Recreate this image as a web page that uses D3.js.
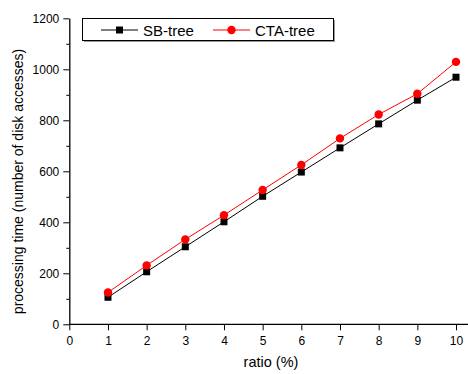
<!DOCTYPE html>
<html>
<head>
<meta charset="utf-8">
<script src="https://cdn.jsdelivr.net/npm/d3@7"></script>
<style>
  body { margin: 0; background: #fff; }
  text { font-family: "Liberation Sans", Arial, sans-serif; fill: #000; }
</style>
</head>
<body>
<div class="container"></div>
<script>
const ratios = [1, 2, 3, 4, 5, 6, 7, 8, 9, 10];
const sbTree = [106, 206, 304, 402, 502, 597, 692, 786, 879, 969];
const ctaTree = [125, 231, 333, 428, 527, 625, 729, 823, 904, 1029];
const xTicks = [0, 1, 2, 3, 4, 5, 6, 7, 8, 9, 10];
const yTicks = [0, 200, 400, 600, 800, 1000, 1200];

const WIDTH = 468;
const HEIGHT = 374;

var svg = d3.select('.container').append('svg')
    .attr('width', WIDTH)
    .attr('height', HEIGHT);

var xScale = d3.scaleLinear().domain([0, 10]).range([69.3, 456]);
var yScale = d3.scaleLinear().domain([0, 1200]).range([324.3, 18.3]);

// x axis
var xAxis = svg.append('g')
    .attr('transform', 'translate(0,' + yScale(0) + ')')
    .call(d3.axisBottom(xScale).tickValues(xTicks).tickSize(6).tickPadding(6).tickSizeOuter(0));
xAxis.select('.domain').attr('stroke-width', 1.3).attr('d', 'M' + xScale(0) + ',0H' + WIDTH);
xAxis.selectAll('text').style('font-size', '12px');

// y axis (major + minor)
var yAxis = svg.append('g')
    .attr('transform', 'translate(' + xScale(0) + ',0)')
    .call(d3.axisLeft(yScale).tickValues(yTicks).tickFormat(d3.format('d'))
        .tickSize(6).tickPadding(4).tickSizeOuter(0));
yAxis.select('.domain').attr('stroke-width', 1.3);
yAxis.selectAll('text').style('font-size', '12px');
svg.append('g')
    .attr('transform', 'translate(' + xScale(0) + ',0)')
    .call(d3.axisLeft(yScale).tickValues(d3.range(100, 1200, 200)).tickSize(3).tickFormat(''))
    .select('.domain').remove();

// axis titles
svg.append('text')
    .attr('x', 271).attr('y', 367)
    .attr('text-anchor', 'middle')
    .style('font-size', '14.5px')
    .text('ratio (%)');
svg.append('text')
    .attr('transform', 'translate(22.5,' + 181.5 + ') rotate(-90)')
    .attr('text-anchor', 'middle')
    .style('font-size', '14px')
    .text('processing time (number of disk accesses)');

var line = d3.line()
    .x(function (d, i) { return xScale(ratios[i]); })
    .y(function (d) { return yScale(d); });

svg.append('path').attr('d', line(sbTree)).attr('fill', 'none').attr('stroke', '#000').attr('stroke-width', 1);
svg.append('path').attr('d', line(ctaTree)).attr('fill', 'none').attr('stroke', '#ff0000').attr('stroke-width', 1);

svg.selectAll('rect.sb').data(sbTree).enter().append('rect')
    .attr('class', 'sb')
    .attr('x', function (d, i) { return xScale(ratios[i]) - 3.5; })
    .attr('y', function (d) { return yScale(d) - 3.5; })
    .attr('width', 7).attr('height', 7)
    .attr('fill', '#000');

svg.selectAll('circle.cta').data(ctaTree).enter().append('circle')
    .attr('class', 'cta')
    .attr('cx', function (d, i) { return xScale(ratios[i]); })
    .attr('cy', function (d) { return yScale(d); })
    .attr('r', 4.2)
    .attr('fill', '#ff0000');

// legend
var lg = svg.append('g');
lg.append('rect').attr('x', 84).attr('y', 20).attr('width', 251).attr('height', 22).attr('fill', '#999');
lg.append('rect').attr('x', 82.5).attr('y', 18.5).attr('width', 251).attr('height', 22)
    .attr('fill', '#fff').attr('stroke', '#000').attr('stroke-width', 1);
lg.append('line').attr('x1', 101).attr('x2', 138).attr('y1', 30).attr('y2', 30).attr('stroke', '#000');
lg.append('rect').attr('x', 116).attr('y', 26.5).attr('width', 7).attr('height', 7).attr('fill', '#000');
lg.append('text').attr('x', 143).attr('y', 35.5).style('font-size', '15px').text('SB-tree');
lg.append('line').attr('x1', 213).attr('x2', 250).attr('y1', 30).attr('y2', 30).attr('stroke', '#ff0000');
lg.append('circle').attr('cx', 231.5).attr('cy', 30).attr('r', 4.2).attr('fill', '#ff0000');
lg.append('text').attr('x', 255).attr('y', 35.5).style('font-size', '15px').text('CTA-tree');
</script>
</body>
</html>
